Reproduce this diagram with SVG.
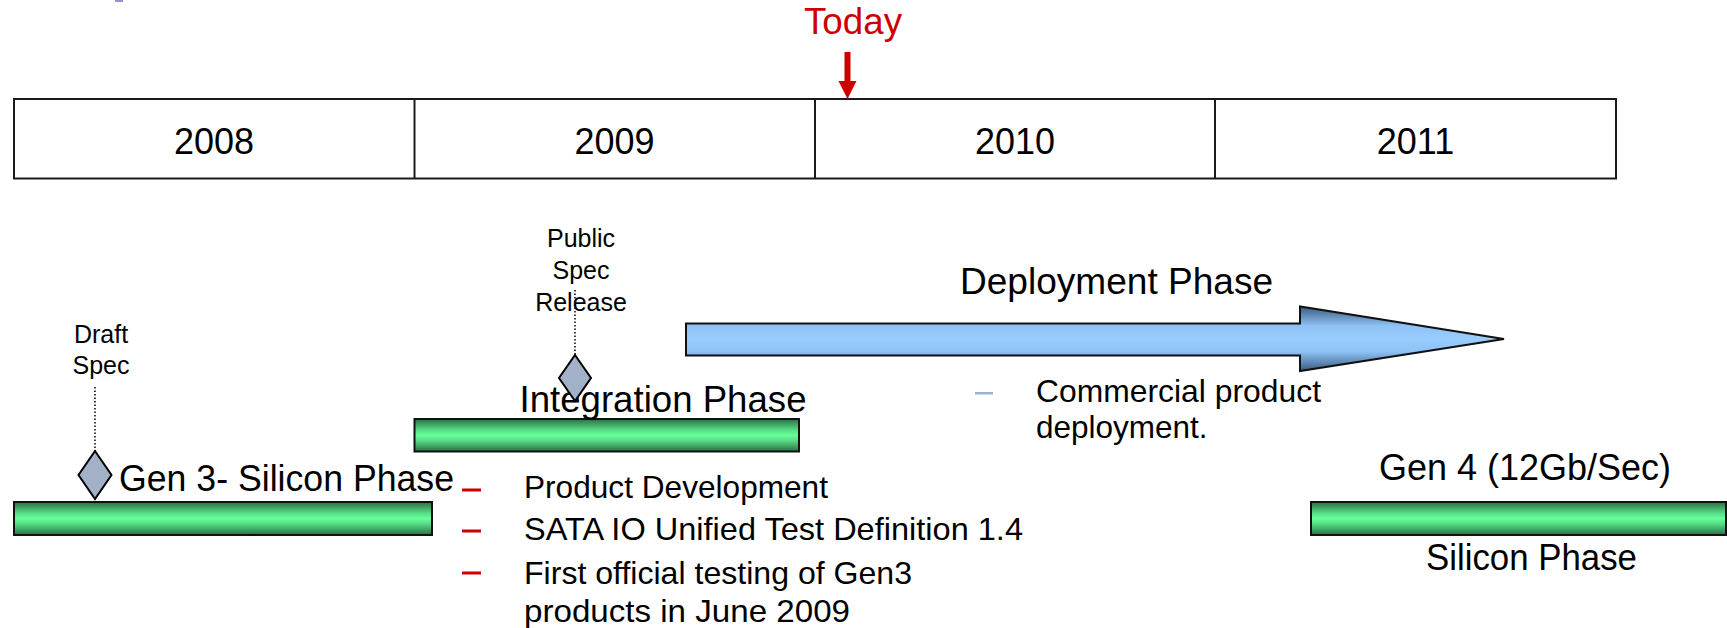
<svg xmlns="http://www.w3.org/2000/svg" width="1727" height="628" viewBox="0 0 1727 628">
  <defs>
    <linearGradient id="gGreen" x1="0" y1="0" x2="0" y2="1">
      <stop offset="0" stop-color="#2b6e44"/>
      <stop offset="0.35" stop-color="#58e088"/>
      <stop offset="0.5" stop-color="#66ff99"/>
      <stop offset="0.65" stop-color="#58e088"/>
      <stop offset="1" stop-color="#2b6e44"/>
    </linearGradient>
    <linearGradient id="gBlue" x1="0" y1="0" x2="0" y2="1">
      <stop offset="0" stop-color="#3b5b7e"/>
      <stop offset="0.3" stop-color="#8ec2f5"/>
      <stop offset="0.5" stop-color="#99ccff"/>
      <stop offset="0.7" stop-color="#8ec2f5"/>
      <stop offset="1" stop-color="#3b5b7e"/>
    </linearGradient>
  </defs>
  <style>
    .lbl { font-family: "Liberation Sans", Arial, sans-serif; fill: #000; }
    .big { font-size: 36px; }
    .small { font-size: 25px; }
    .bullet { font-family: "Liberation Sans", Arial, sans-serif; font-size: 31.5px; fill: #000; }
    .bar { fill: url(#gGreen); stroke: #111; stroke-width: 2; }
    .diamond { fill: #a2b1c8; stroke: #000; stroke-width: 2; }
    .dotted { stroke: #000; stroke-width: 1.5; stroke-dasharray: 1.5 2; fill: none; }
    .reddash { fill: #cc0000; }
    .red { fill: #cc0000; }
  </style>

  <rect x="115" y="0" width="8" height="2" fill="#9b8fd0"/>

  <g id="today">
    <text class="lbl red" x="804" y="34" font-size="37" style="fill:#cc0000" textLength="98" lengthAdjust="spacingAndGlyphs">Today</text>
  </g>

  <g id="timeline">
    <rect x="14" y="99" width="1602" height="79.5" fill="#fff" stroke="#1a1a1a" stroke-width="2"/>
    <line x1="414.5" y1="99" x2="414.5" y2="178.5" stroke="#1a1a1a" stroke-width="2"/>
    <line x1="815" y1="99" x2="815" y2="178.5" stroke="#1a1a1a" stroke-width="2"/>
    <line x1="1215" y1="99" x2="1215" y2="178.5" stroke="#1a1a1a" stroke-width="2"/>
    <text class="lbl big" x="214" y="154" text-anchor="middle">2008</text>
    <text class="lbl big" x="614.5" y="154" text-anchor="middle">2009</text>
    <text class="lbl big" x="1015" y="154" text-anchor="middle">2010</text>
    <text class="lbl big" x="1415.5" y="154" text-anchor="middle">2011</text>
  </g>

  <g id="connectors">
    <rect x="844.5" y="52" width="6" height="31" fill="#cc0000"/>
    <polygon points="838.5,81 856.5,81 847.5,99" fill="#cc0000"/>
    <line class="dotted" x1="95" y1="387" x2="95" y2="451"/>
    <line class="dotted" x1="575" y1="290" x2="575" y2="355"/>
  </g>

  <g id="draft-spec">
    <text class="lbl small" x="101" y="343" text-anchor="middle">Draft</text>
    <text class="lbl small" x="101" y="374" text-anchor="middle">Spec</text>
    <polygon class="diamond" points="95,451 111.5,475 95,499 78.5,475"/>
  </g>

  <g id="public-spec">
    <text class="lbl small" x="581" y="247" text-anchor="middle">Public</text>
    <text class="lbl small" x="581" y="279" text-anchor="middle">Spec</text>
    <text class="lbl small" x="581" y="311" text-anchor="middle">Release</text>
  </g>

  <g id="gen3">
    <rect class="bar" x="14" y="502" width="418" height="33"/>
    <text class="lbl big" x="119" y="491" textLength="335" lengthAdjust="spacingAndGlyphs">Gen 3- Silicon Phase</text>
  </g>

  <g id="integration">
    <rect class="bar" x="414.5" y="419" width="384.5" height="32.5"/>
    <text class="lbl big" x="519.5" y="412" textLength="287" lengthAdjust="spacingAndGlyphs">Integration Phase</text>
  </g>

  <g id="public-diamond">
    <polygon class="diamond" points="575,355 591,378 575,401 559,378"/>
  </g>

  <g id="integration-bullets">
    <rect class="reddash" x="462" y="488.5" width="19" height="3"/>
    <rect class="reddash" x="462" y="529.5" width="19" height="3"/>
    <rect class="reddash" x="462" y="571.5" width="19" height="3"/>
    <text class="bullet" x="524" y="498" textLength="304" lengthAdjust="spacingAndGlyphs">Product Development</text>
    <text class="bullet" x="524" y="540" textLength="499" lengthAdjust="spacingAndGlyphs">SATA IO Unified Test Definition 1.4</text>
    <text class="bullet" x="524" y="584" textLength="388" lengthAdjust="spacingAndGlyphs">First official testing of Gen3</text>
    <text class="bullet" x="524" y="622" textLength="326" lengthAdjust="spacingAndGlyphs">products in June 2009</text>
  </g>

  <g id="deployment">
    <text class="lbl big" x="960" y="294" textLength="313" lengthAdjust="spacingAndGlyphs">Deployment Phase</text>
    <polygon points="686,323.5 1300,323.5 1300,306.5 1504,339 1300,371 1300,355.5 686,355.5" fill="url(#gBlue)" stroke="#111" stroke-width="2"/>
    <rect x="975" y="392" width="18" height="2.5" fill="#9db0d0"/>
    <text class="bullet" x="1036" y="402" textLength="285" lengthAdjust="spacingAndGlyphs">Commercial product</text>
    <text class="bullet" x="1036" y="438">deployment.</text>
  </g>

  <g id="gen4">
    <text class="lbl big" x="1379" y="480" textLength="292" lengthAdjust="spacingAndGlyphs">Gen 4 (12Gb/Sec)</text>
    <rect class="bar" x="1311" y="502" width="415" height="33"/>
    <text class="lbl big" x="1426" y="570" textLength="211" lengthAdjust="spacingAndGlyphs">Silicon Phase</text>
  </g>
</svg>
